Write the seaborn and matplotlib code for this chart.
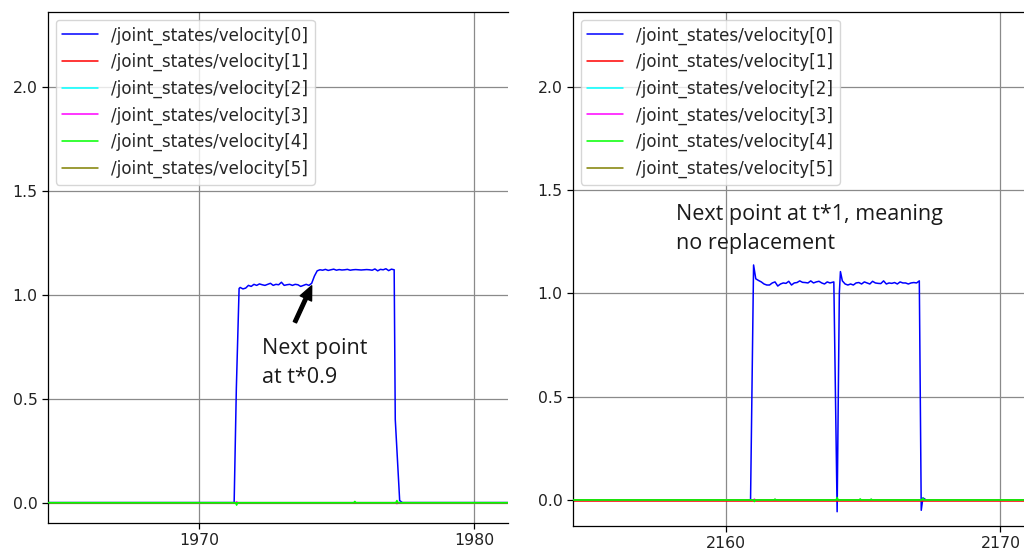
import numpy as np
import pandas as pd
import matplotlib
matplotlib.use("Agg")
import matplotlib.pyplot as plt
import seaborn as sns

# ---- series names and colours -------------------------------------------
labels = [f"/joint_states/velocity[{i}]" for i in range(6)]
colors = ["#0000ff", "#ff0000", "#00ffff", "#ff00ff", "#00ff00", "#808000"]

# ---- run 1: scaled next point (t*0.9) ------------------------------------
t_a0 = [1964.0, 1971.28, 1971.36, 1971.46, 1971.5, 1971.6, 1971.7, 1971.8,
        1971.9, 1972.0, 1972.1, 1972.2, 1972.3, 1972.4, 1972.5, 1972.6,
        1972.7, 1972.8, 1972.9, 1973.0, 1973.1, 1973.2, 1973.3, 1973.4,
        1973.5, 1973.6, 1973.7, 1973.8, 1973.9, 1974.0, 1974.1, 1974.2,
        1974.3, 1974.4, 1974.5, 1974.6, 1974.7, 1974.8, 1974.9, 1975.0,
        1975.1, 1975.2, 1975.3, 1975.4, 1975.5, 1975.6, 1975.7, 1975.8,
        1975.9, 1976.0, 1976.1, 1976.2, 1976.3, 1976.4, 1976.5, 1976.6,
        1976.7, 1976.8, 1976.9, 1977.0, 1977.1, 1977.14, 1977.3, 1977.4,
        1982.0]
v_a0 = [0.0, 0.0, 0.55, 1.03, 1.035, 1.028, 1.032, 1.045,
        1.04, 1.05, 1.045, 1.052, 1.048, 1.045, 1.05, 1.055,
        1.045, 1.05, 1.048, 1.06, 1.045, 1.048, 1.05, 1.045,
        1.05, 1.048, 1.04, 1.045, 1.05, 1.045, 1.055, 1.09,
        1.115, 1.12, 1.118, 1.122, 1.117, 1.12, 1.123, 1.118,
        1.121, 1.119, 1.12, 1.122, 1.118, 1.12, 1.121, 1.12,
        1.119, 1.12, 1.121, 1.12, 1.118, 1.124, 1.115, 1.122,
        1.12, 1.125, 1.116, 1.123, 1.12, 0.40, 0.01, 0.0,
        0.0]
t_a_small = [1964.0, 1971.33, 1971.37, 1971.41, 1975.63, 1975.67, 1975.71,
             1977.16, 1977.2, 1977.24, 1982.0]
v_a1 = [-0.004] * 11
v_a2 = [0.0] * 11
v_a3 = [0.0, 0.0, 0.004, 0.0, 0.0, 0.0, 0.0, 0.0, -0.005, 0.0, 0.0]
v_a4 = [0.0, 0.0, -0.012, 0.0, 0.0, 0.006, 0.0, 0.0, 0.01, 0.0, 0.0]
v_a5 = [-0.002] * 11

# ---- run 2: unscaled next point (t*1) ------------------------------------
t_b0 = [2154.0, 2160.91, 2161.02, 2161.1, 2161.2, 2161.3, 2161.4, 2161.5,
        2161.6, 2161.7, 2161.8, 2161.9, 2162.0, 2162.1, 2162.2, 2162.3,
        2162.4, 2162.5, 2162.6, 2162.7, 2162.8, 2162.9, 2163.0, 2163.1,
        2163.2, 2163.3, 2163.4, 2163.5, 2163.6, 2163.7, 2163.8, 2163.94,
        2164.06, 2164.14, 2164.18, 2164.25, 2164.35, 2164.45, 2164.55,
        2164.65, 2164.75, 2164.85, 2164.95, 2165.05, 2165.15, 2165.25,
        2165.35, 2165.45, 2165.55, 2165.65, 2165.75, 2165.85, 2165.95,
        2166.05, 2166.15, 2166.25, 2166.35, 2166.45, 2166.55, 2166.65,
        2166.75, 2166.85, 2166.95, 2167.05, 2167.12, 2167.18, 2167.3,
        2172.0]
v_b0 = [0.0, 0.0, 1.137, 1.07, 1.062, 1.055, 1.045, 1.04,
        1.04, 1.05, 1.055, 1.035, 1.045, 1.05, 1.048, 1.058,
        1.04, 1.05, 1.052, 1.06, 1.053, 1.052, 1.05, 1.06,
        1.05, 1.055, 1.058, 1.05, 1.045, 1.055, 1.05, 1.055,
        -0.057, 1.0, 1.105, 1.06, 1.045, 1.04, 1.045,
        1.04, 1.05, 1.052, 1.045, 1.055, 1.05, 1.045,
        1.058, 1.05, 1.048, 1.047, 1.06, 1.045, 1.05,
        1.048, 1.052, 1.045, 1.055, 1.05, 1.05, 1.045,
        1.05, 1.052, 1.05, 1.06, -0.05, 0.01, 0.0,
        0.0]
t_b_small = [2154.0, 2161.01, 2161.05, 2161.09, 2161.76, 2161.8, 2161.84,
             2164.02, 2164.06, 2164.1, 2164.86, 2164.9, 2164.94,
             2165.26, 2165.3, 2165.34, 2167.14, 2167.18, 2167.22, 2172.0]
v_b1 = [-0.004] * 20
v_b2 = [0.0] * 20
v_b3 = [0.0, 0.0, 0.004, 0.0, 0.0, 0.003, 0.0, 0.0, 0.0, 0.0,
        0.0, 0.003, 0.0, 0.0, 0.003, 0.0, 0.0, 0.0, 0.0, 0.0]
v_b4 = [0.0, 0.0, -0.008, 0.0, 0.0, 0.004, 0.0, 0.0, 0.012, 0.0,
        0.0, 0.005, 0.0, 0.0, 0.004, 0.0, 0.0, 0.008, 0.0, 0.0]
v_b5 = [-0.002] * 20


def long_form(t0, v0, t_small, others):
    frames = [pd.DataFrame({"t": t0, "v": v0, "series": labels[0]})]
    for lab, vals in zip(labels[1:], others):
        frames.append(pd.DataFrame({"t": t_small, "v": vals, "series": lab}))
    return pd.concat(frames, ignore_index=True)


df_a = long_form(t_a0, v_a0, t_a_small, [v_a1, v_a2, v_a3, v_a4, v_a5])
df_b = long_form(t_b0, v_b0, t_b_small, [v_b1, v_b2, v_b3, v_b4, v_b5])

sns.set_theme(style="ticks")
plt.rcParams["font.family"] = ["DejaVu Sans"]
plt.rcParams["axes.edgecolor"] = "black"
plt.rcParams["axes.linewidth"] = 0.9

fs = 11.3
leg_fs = 12.1
W, H = 1024, 555
fig = plt.figure(figsize=(W / 100, H / 100), dpi=100)
fig.patch.set_facecolor("white")


def px_axes(x0, x1, top, bottom):
    return fig.add_axes([x0 / W, (H - bottom) / H, (x1 - x0) / W, (bottom - top) / H])


ax_a = px_axes(48, 508, 12, 523)
ax_b = px_axes(573, 1032, 12, 526)

panels = [
    (ax_a, df_a, (1964.51, 1981.24), (-0.098, 2.36), [1970, 1980]),
    (ax_b, df_b, (2154.45, 2171.15), (-0.126, 2.361), [2160, 2170]),
]

for ax, df, xl, yl, xt in panels:
    sns.lineplot(data=df, x="t", y="v", hue="series", hue_order=labels,
                 palette=colors, estimator=None, sort=False, linewidth=1.1,
                 ax=ax, legend=True)
    # keep the bright green trace on top of the other near-zero traces
    for line in ax.get_lines():
        if matplotlib.colors.to_hex(line.get_color()) == "#00ff00":
            line.set_zorder(2.6)
    ax.set_xlim(*xl)
    ax.set_ylim(*yl)
    ax.set_xticks(xt)
    ax.set_yticks([0.0, 0.5, 1.0, 1.5, 2.0])
    ax.set_yticklabels(["0.0", "0.5", "1.0", "1.5", "2.0"])
    ax.set_xlabel("")
    ax.set_ylabel("")
    ax.grid(True, color="#8a8a8a", linewidth=0.9)
    ax.set_axisbelow(True)
    ax.spines["right"].set_visible(False)
    ax.tick_params(axis="both", labelsize=fs, length=4, width=0.9,
                   colors="black", labelcolor="#222222")
    ax.set_facecolor("white")
    handles, labs = ax.get_legend_handles_labels()
    ax.legend(handles, labs, loc="upper left", fontsize=leg_fs,
              handlelength=2.1, borderaxespad=0.45, frameon=True,
              framealpha=0.8, edgecolor="#cccccc", fancybox=True)
    for line in ax.get_legend().get_lines():
        line.set_linewidth(1.1)

note_font = ["Open Sans", "DejaVu Sans"]
ax_a.annotate("", xy=(1974.10, 1.043), xytext=(1973.49, 0.868),
              arrowprops=dict(facecolor="black", edgecolor="black",
                              width=2.5, headwidth=9, headlength=10))
ax_a.text(1972.29, 0.79, "Next point\nat t*0.9", ha="left", va="top",
          fontsize=15.5, family=note_font, color="#1a1a1a", linespacing=1.5)
ax_b.text(2158.18, 1.43, "Next point at t*1, meaning\nno replacement",
          ha="left", va="top", fontsize=15.5, family=note_font,
          color="#1a1a1a", linespacing=1.5)

fig.savefig("out.png", dpi=100, facecolor="white")
